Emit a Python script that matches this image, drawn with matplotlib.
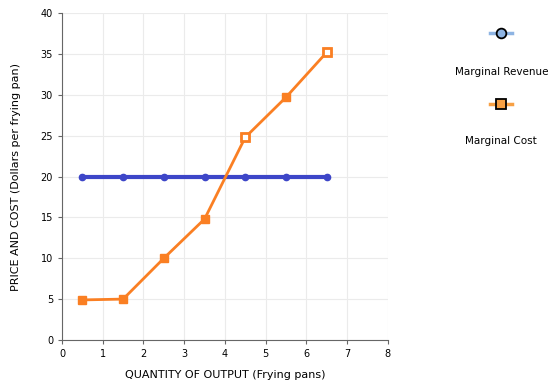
import matplotlib.pyplot as plt
from matplotlib.lines import Line2D

quantity = [0.5, 1.5, 2.5, 3.5, 4.5, 5.5, 6.5]
marginal_revenue = [20, 20, 20, 20, 20, 20, 20]
marginal_cost = [4.9, 5, 10, 14.8, 24.8, 29.7, 35.2]

mr_color = "#3d46c8"
mc_color = "#fa7f23"

fig = plt.figure(figsize=(5.54, 3.85), dpi=100)
ax = fig.add_axes([0.112, 0.117, 0.588, 0.849])

ax.plot(quantity, marginal_revenue, color=mr_color, lw=3, marker="o",
        ms=4.5, mfc=mr_color, mec=mr_color, zorder=3)
ax.plot(quantity, marginal_cost, color=mc_color, lw=2, marker="s",
        ms=6, mfc=mc_color, mec=mc_color, zorder=4)
# a couple of the cost markers are drawn hollow in the original
hollow = [4, 6]
ax.plot([quantity[i] for i in hollow], [marginal_cost[i] for i in hollow], lw=0,
        marker="s", ms=6, mfc="white", mec=mc_color, mew=2, zorder=5)

ax.set_xlim(0, 8)
ax.set_ylim(0, 40)
ax.set_xticks(range(0, 9))
ax.set_yticks(range(0, 41, 5))
ax.grid(color="#ebebeb", lw=0.8)
ax.set_axisbelow(True)
for s in ["top", "right"]:
    ax.spines[s].set_visible(False)
for s in ["left", "bottom"]:
    ax.spines[s].set_color("#666666")
ax.tick_params(labelsize=7, length=3, color="#666666")
ax.set_xlabel("QUANTITY OF OUTPUT (Frying pans)", fontsize=8, labelpad=8)
ax.set_ylabel("PRICE AND COST (Dollars per frying pan)", fontsize=8, labelpad=14)

# legend drawn by hand outside the axes
for y_mark, y_text, col, mk, label in [(0.914, 0.813, "#8eb4e3", "o", "Marginal Revenue"),
                                       (0.730, 0.634, "#f7a044", "s", "Marginal Cost")]:
    fig.add_artist(Line2D([0.885, 0.925], [y_mark, y_mark], color=col, lw=2.5,
                          transform=fig.transFigure))
    fig.add_artist(Line2D([0.905], [y_mark], marker=mk, ms=7, mfc=col, mec="black",
                          mew=1.3, lw=0, transform=fig.transFigure))
    fig.text(0.905, y_text, label, ha="center", va="center", fontsize=7.5)

fig.savefig("out.png", dpi=100)
